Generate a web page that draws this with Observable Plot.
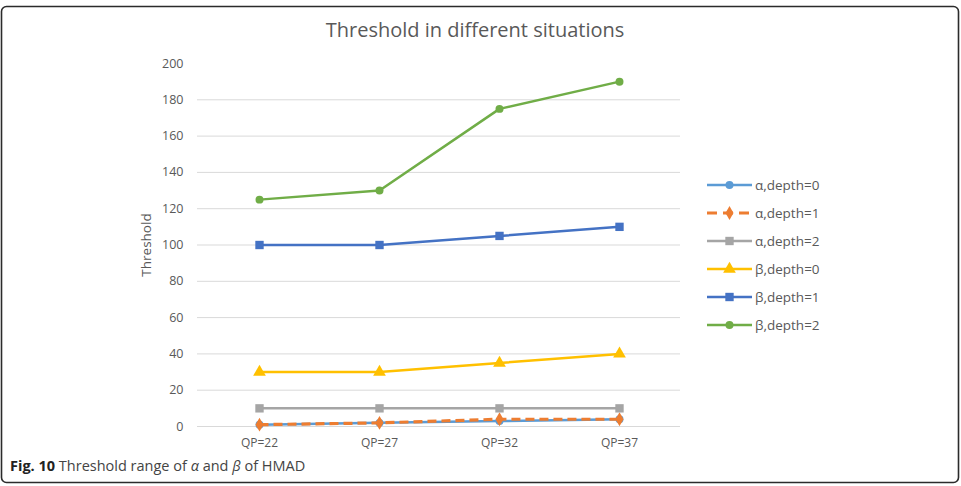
<!DOCTYPE html>
<html>
<head>
<meta charset="utf-8">
<script src="https://cdn.jsdelivr.net/npm/d3@7"></script>
<script src="https://cdn.jsdelivr.net/npm/@observablehq/plot@0.6"></script>
<style>
  html, body { margin: 0; padding: 0; background: #fff; }
  #chart { width: 961px; height: 486px; }
  svg { font-family: "Open Sans", "Noto Sans", sans-serif; }
</style>
</head>
<body>
<div id="chart"></div>
<script>
const categories = ["QP=22", "QP=27", "QP=32", "QP=37"];
const seriesNames = ["α,depth=0", "α,depth=1", "α,depth=2", "β,depth=0", "β,depth=1", "β,depth=2"];
const alphaDepth0 = [1, 2, 3, 4];
const alphaDepth1 = [1, 2, 4, 4];
const alphaDepth2 = [10, 10, 10, 10];
const betaDepth0 = [30, 30, 35, 40];
const betaDepth1 = [100, 100, 105, 110];
const betaDepth2 = [125, 130, 175, 190];
const yTicks = [0, 20, 40, 60, 80, 100, 120, 140, 160, 180, 200];

const seriesValues = [alphaDepth0, alphaDepth1, alphaDepth2, betaDepth0, betaDepth1, betaDepth2];
const colors = ["#5B9BD5", "#ED7D31", "#A5A5A5", "#FFC000", "#4472C4", "#70AD47"];
const symbols = ["circle", "diamond", "square", "triangle", "square", "circle"];
const dashes = [null, "9,5", null, null, null, null];
const widths = [2.5, 3.2, 2.5, 2.5, 2.5, 2.5];
const sizes = [50, 55, 70, 70, 70, 50];

const seriesData = seriesValues.map((vals, i) =>
  vals.map((v, j) => ({series: seriesNames[i], cat: categories[j], value: v}))
);

const marks = [
  Plot.gridY(yTicks.filter(t => t < 200), {stroke: "#d9d9d9", strokeOpacity: 1, strokeWidth: 1}),
  Plot.axisY(yTicks, {tickSize: 0, tickPadding: 14, fontSize: 12.5, fill: "#595959", label: null}),
  Plot.axisX({tickSize: 0, tickPadding: 12, fontSize: 12, fill: "#595959", label: null})
];
seriesData.forEach((d, i) => {
  marks.push(Plot.line(d, {x: "cat", y: "value", stroke: colors[i], strokeWidth: widths[i],
    strokeDasharray: dashes[i], strokeLinecap: dashes[i] ? "butt" : "round"}));
  marks.push(Plot.dot(d, {x: "cat", y: "value", fill: colors[i], stroke: "none",
    symbol: () => symbols[i], r: Math.sqrt(sizes[i] / Math.PI)}));
});

const chart = Plot.plot({
  width: 961,
  height: 486,
  marginTop: 63,
  marginBottom: 60,
  marginLeft: 197,
  marginRight: 281,
  style: {fontFamily: "'Open Sans', 'Noto Sans', sans-serif", background: "#fff"},
  x: {type: "point", domain: categories, padding: 0.5, label: null},
  y: {domain: [0, 200], label: null},
  symbol: {type: "identity"},
  marks
});
document.getElementById("chart").appendChild(chart);

const svg = d3.select(chart);
// frame border
svg.append("rect").attr("x", 1.5).attr("y", 6.5).attr("width", 957).attr("height", 476)
  .attr("rx", 5).attr("fill", "none").attr("stroke", "#2b2b2b").attr("stroke-width", 1.6);
// title
svg.append("text").attr("x", 475).attr("y", 37).attr("text-anchor", "middle")
  .attr("font-size", 20).attr("fill", "#595959").text("Threshold in different situations");
// y label
svg.append("text").attr("transform", "translate(151,245) rotate(-90)").attr("text-anchor", "middle")
  .attr("font-size", 13.5).attr("fill", "#595959").text("Threshold");
// legend
const legY = [185, 213, 241, 269, 297, 325];
seriesNames.forEach((name, i) => {
  const g = svg.append("g").attr("transform", `translate(0,${legY[i]})`);
  g.append("line").attr("x1", 707).attr("x2", 752).attr("y1", 0).attr("y2", 0)
    .attr("stroke", colors[i]).attr("stroke-width", widths[i])
    .attr("stroke-dasharray", dashes[i] ? "10,6" : null);
  g.append("path").attr("transform", "translate(729.5,0)")
    .attr("d", d3.symbol(d3["symbol" + symbols[i][0].toUpperCase() + symbols[i].slice(1)], sizes[i])())
    .attr("fill", colors[i]);
  g.append("text").attr("x", 755).attr("y", 0).attr("dy", "0.35em").attr("font-size", 13.5)
    .attr("text-anchor", "start").attr("fill", "#595959").text(name);
});
// caption
const cap = svg.append("text").attr("x", 10).attr("y", 471).attr("font-size", 14.5)
  .attr("text-anchor", "start").attr("fill", "#444");
cap.append("tspan").attr("font-weight", "bold").attr("fill", "#222").text("Fig. 10");
cap.append("tspan").text(" Threshold range of ");
cap.append("tspan").attr("font-style", "italic").text("α");
cap.append("tspan").text(" and ");
cap.append("tspan").attr("font-style", "italic").text("β");
cap.append("tspan").text(" of HMAD");
</script>
</body>
</html>
